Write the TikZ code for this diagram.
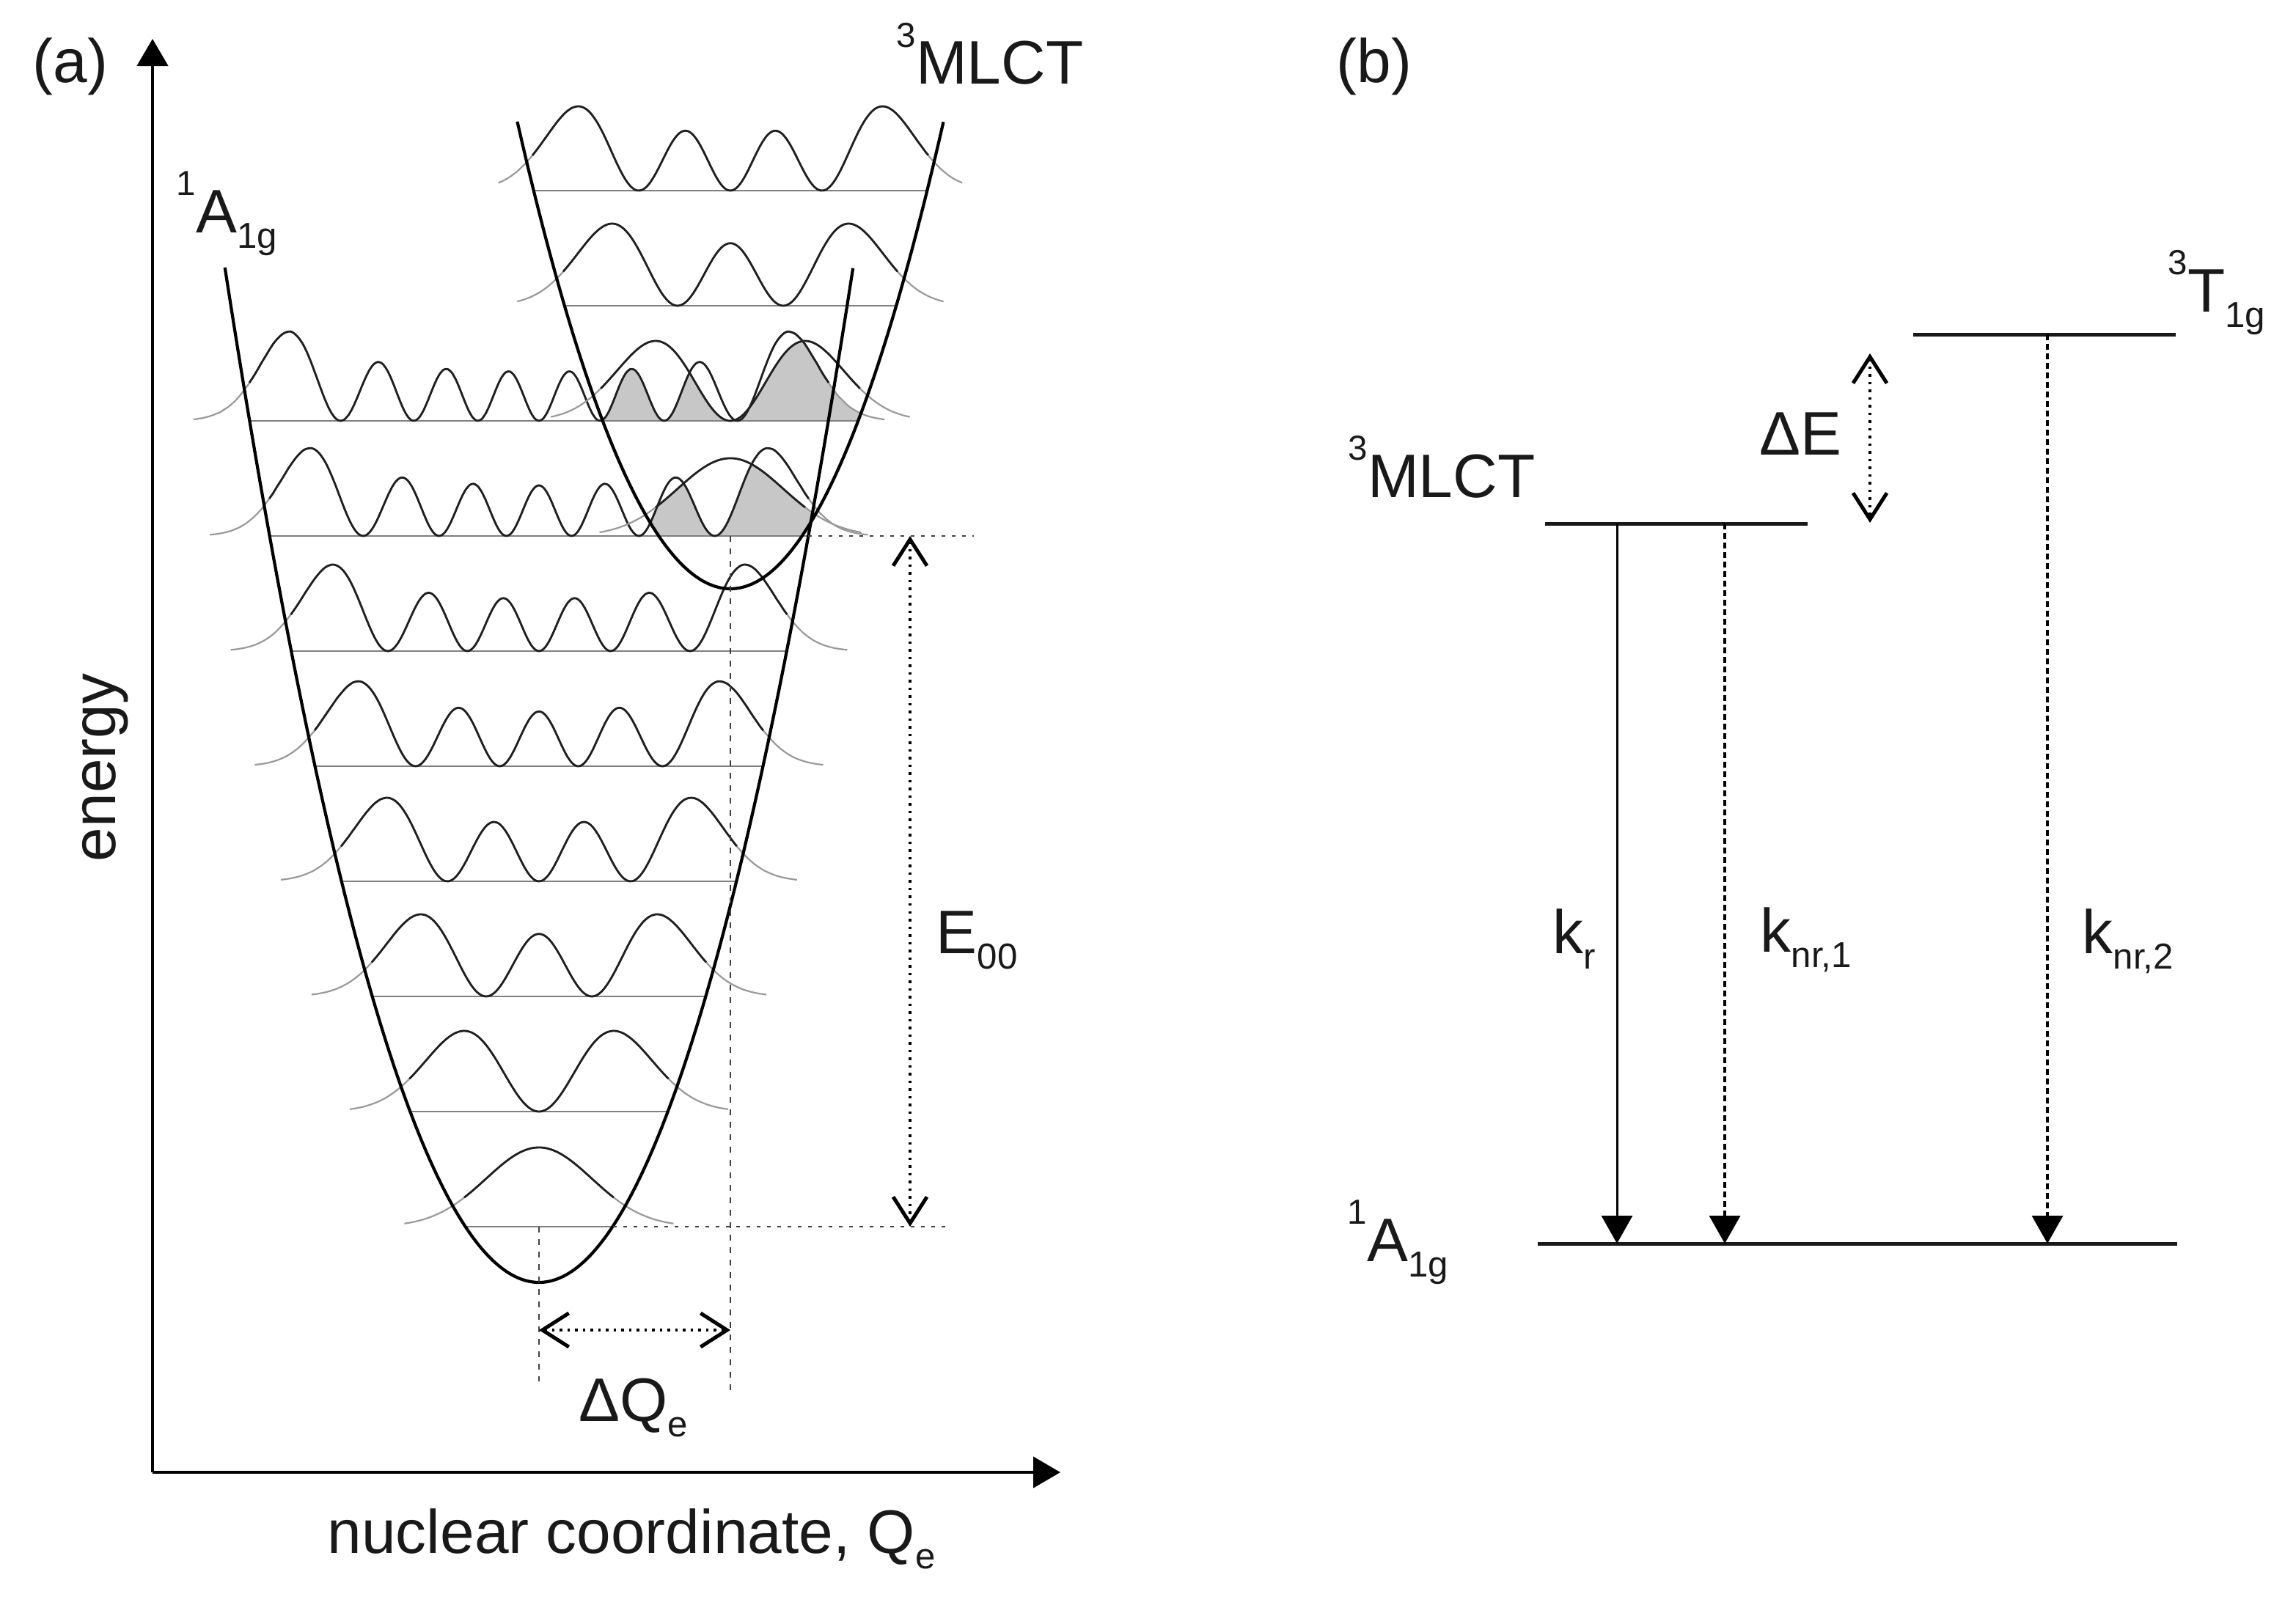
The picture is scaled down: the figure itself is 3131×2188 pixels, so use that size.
\documentclass[tikz,border=0pt]{standalone}
\usepackage{fontspec}
\setmainfont{Liberation Sans}
\usetikzlibrary{arrows.meta}
\newcommand\upsc[1]{\raisebox{0.6em}{\fontsize{13.5}{13.5}\selectfont #1}}
\newcommand\dnsc[1]{\raisebox{-0.26em}{\fontsize{14}{14}\selectfont #1}}
\tikzset{
  declare function={
    sq(\t)=(\t)*(\t);
    wfa(\t)=exp(-\t*\t/2);
    wfb(\t)=1.64873*\t*exp(-\t*\t/2);
    wfc(\t)=(1.74520*\t*\t-0.87260)*exp(-\t*\t/2);
    wfd(\t)=\t*(1.47561*\t*\t-2.21341)*exp(-\t*\t/2);
    wfe(\t)=(1.06952*(\t*\t)*(\t*\t)-3.20856*\t*\t+0.80214)*exp(-\t*\t/2);
    wff(\t)=(\t*(0.68966*(\t*\t)*(\t*\t)-3.44828*\t*\t+2.58621)*exp(-\t*\t/4))*exp(-\t*\t/4);
    wfg(\t)=((0.40455*(\t*\t)*(\t*\t)*(\t*\t)-3.03413*(\t*\t)*(\t*\t)+4.55120*\t*\t-0.75853)*exp(-\t*\t/4))*exp(-\t*\t/4);
    wfh(\t)=(\t*exp(-\t*\t/4))*((0.21922*(\t*\t)*(\t*\t)*(\t*\t)-2.30176*(\t*\t)*(\t*\t)+5.75441*\t*\t-2.87721)*exp(-\t*\t/4));
  },
  lbl/.style={anchor=base west},
  lvl/.style={line width=0.025cm, draw=black!50},
  core/.style={line width=0.028cm, draw=black!88},
  tailc/.style={line width=0.022cm, draw=black!40},
  pot/.style={line width=0.042cm, draw=black},
  shd/.style={fill=black!22},
  axisline/.style={line width=0.045cm, -{Triangle[length=0.37cm,width=0.42cm]}},
  chev/.style={line width=0.035cm, dash pattern=on 0.035cm off 0.07cm,
    {Straight Barb[length=0.36cm,width=0.46cm,line width=0.05cm]}-{Straight Barb[length=0.36cm,width=0.46cm,line width=0.05cm]}},
  guide/.style={line width=0.028cm, draw=black!75, dash pattern=on 0.05cm off 0.09cm},
  vguide/.style={line width=0.025cm, draw=black!75, dash pattern=on 0.08cm off 0.09cm},
  statelvl/.style={line width=0.05cm, draw=black!90},
  radarrow/.style={line width=0.03cm, -{Triangle[length=0.38cm,width=0.42cm]}},
  nrarrow/.style={line width=0.035cm, dash pattern=on 0.08cm off 0.05cm, -{Triangle[length=0.38cm,width=0.42cm]}},
}
% #1 fn, #2 centre x, #3 level y, #4 amplitude, #5 turning point, #6 tail extent
\newcommand\wave[6]{%
  \draw[tailc] plot[domain=-#6:#6, samples=181, smooth] ({#2+102*\x},{#3-#4*sq(#1(\x))});
  \draw[core] plot[domain=-#5:#5, samples=141, smooth] ({#2+102*\x},{#3-#4*sq(#1(\x))});
}
\begin{document}
\begin{tikzpicture}[x=0.01cm, y=-0.01cm,
  every node/.style={font=\fontsize{23.84}{28}\selectfont, inner sep=0pt, text=black!90}]
\useasboundingbox (0,0) rectangle (3131,2188);

% ---------------- panel (a) ----------------
% Franck-Condon overlap shading
\begin{scope}
  \clip plot[domain=-2.849:2.849, samples=60] ({996+102*\x},{803-78.5*\x*\x}) -- cycle;
  \fill[shd] (996-102*1.6,731) -- plot[domain=-1.6:1.6, samples=121, smooth]
    ({996+102*\x},{731-min(120*sq(wfg(\x+2.559)),106*sq(wfa(\x)))}) -- (996+102*1.6,731) -- cycle;
  \fill[shd] (996-102*2.2,574) -- plot[domain=-2.2:2.2, samples=141, smooth]
    ({996+102*\x},{574-min(122*sq(wfh(\x+2.559)),109*sq(wfb(\x)))}) -- (996+102*2.2,574) -- cycle;
\end{scope}

% vibrational level lines, ground state 1A1g
\foreach \L in {1673,1516,1359,1202,1045,888,731}{
  \draw[lvl] ({735-102*sqrt((1749-\L)/78.5)},\L) -- ({735+102*sqrt((1749-\L)/78.5)},\L);
}
\draw[lvl] ({735-102*sqrt((1749-574)/78.5)},574) -- ({996+102*sqrt((803-574)/78.5)},574);
% 3MLCT level lines
\foreach \L in {417,260}{
  \draw[lvl] ({996-102*sqrt((803-\L)/78.5)},\L) -- ({996+102*sqrt((803-\L)/78.5)},\L);
}

% wavefunctions 1A1g
\wave{wfa}{735}{1673}{108}{1}{1.8}
\wave{wfb}{735}{1516}{110}{1.732}{2.53}
\wave{wfc}{735}{1359}{112}{2.236}{3.04}
\wave{wfd}{735}{1202}{114}{2.646}{3.45}
\wave{wfe}{735}{1045}{116}{3}{3.8}
\wave{wff}{735}{888}{118}{3.317}{4.12}
\wave{wfg}{735}{731}{120}{3.606}{4.4}
\wave{wfh}{735}{574}{122}{3.873}{4.62}
% wavefunctions 3MLCT
\wave{wfa}{996}{731}{106}{1}{1.75}
\wave{wfb}{996}{574}{109}{1.732}{2.4}
\wave{wfc}{996}{417}{112}{2.236}{2.85}
\wave{wfd}{996}{260}{115}{2.646}{3.1}

% potential curves
\draw[pot] plot[domain=-4.199:4.199, samples=90, smooth] ({735+102*\x},{1749-78.5*\x*\x});
\draw[pot] plot[domain=-2.849:2.849, samples=70, smooth] ({996+102*\x},{803-78.5*\x*\x});

% axes
\coordinate (origin) at (208,2008);
\coordinate (ytip) at (208,53);
\coordinate (xtip) at (1446,2008);
\draw[axisline] (origin) -- (ytip);
\draw[axisline] (origin) -- (xtip);

% guide lines
\coordinate (e00top) at (1241,731);
\coordinate (e00bot) at (1241,1673);
\draw[guide] (1102,731) -- (1328,731);
\draw[guide] (836,1673) -- (1292,1673);
\draw[vguide] (996,731) -- (996,1897);
\draw[vguide] (735,1673) -- (735,1884);
\draw[chev] (e00top) -- (e00bot);
\coordinate (dqa) at (735,1814);
\coordinate (dqb) at (996,1814);
\draw[chev] (dqa) -- (dqb);

% labels (a)
\node[lbl] (laba) at (44,113) {(a)};
\node[lbl] (gsA) at (240,317) {\upsc{1}A\dnsc{1g}};
\node[lbl] (mlctA) at (1222,115) {\upsc{3}MLCT};
\node[lbl] (e00) at (1276,1300) {E\dnsc{00}};
\node[lbl] (dq) at (789,1938) {ΔQ\dnsc{e}};
\node[lbl] (xlab) at (446,2118) {nuclear coordinate, Q\dnsc{e}};
\node[rotate=90, anchor=base] (ylab) at (157,1047) {energy};

% ---------------- panel (b) ----------------
\coordinate (t1) at (2609,456);
\coordinate (t2) at (2967,456);
\coordinate (m1) at (2107,714);
\coordinate (m2) at (2465,714);
\coordinate (g1) at (2097,1696);
\coordinate (g2) at (2969,1696);
\draw[statelvl] (t1) -- (t2);
\draw[statelvl] (m1) -- (m2);
\draw[statelvl] (g1) -- (g2);

\coordinate (kra) at (2205,714);
\coordinate (krb) at (2205,1696);
\coordinate (ka) at (2352,714);
\coordinate (kb) at (2352,1696);
\coordinate (kc) at (2792,456);
\coordinate (kd) at (2792,1696);
\draw[radarrow] (kra) -- (krb);
\draw[nrarrow] (ka) -- (kb);
\draw[nrarrow] (kc) -- (kd);
\coordinate (dea) at (2550,482);
\coordinate (deb) at (2550,713);
\draw[chev] (dea) -- (deb);

\node[lbl] (labb) at (1822,113) {(b)};
\node[lbl] (tB) at (2956,425) {\upsc{3}T\dnsc{1g}};
\node[lbl] (mB) at (1838,678) {\upsc{3}MLCT};
\node[lbl] (gB) at (1837,1720) {\upsc{1}A\dnsc{1g}};
\node[lbl] (dE) at (2399,620) {ΔE};
\node[lbl] (krl) at (2117,1300) {k\dnsc{r}};
\node[lbl] (knra) at (2400,1298) {k\dnsc{nr,1}};
\node[lbl] (knrb) at (2839,1300) {k\dnsc{nr,2}};
\end{tikzpicture}
\end{document}
